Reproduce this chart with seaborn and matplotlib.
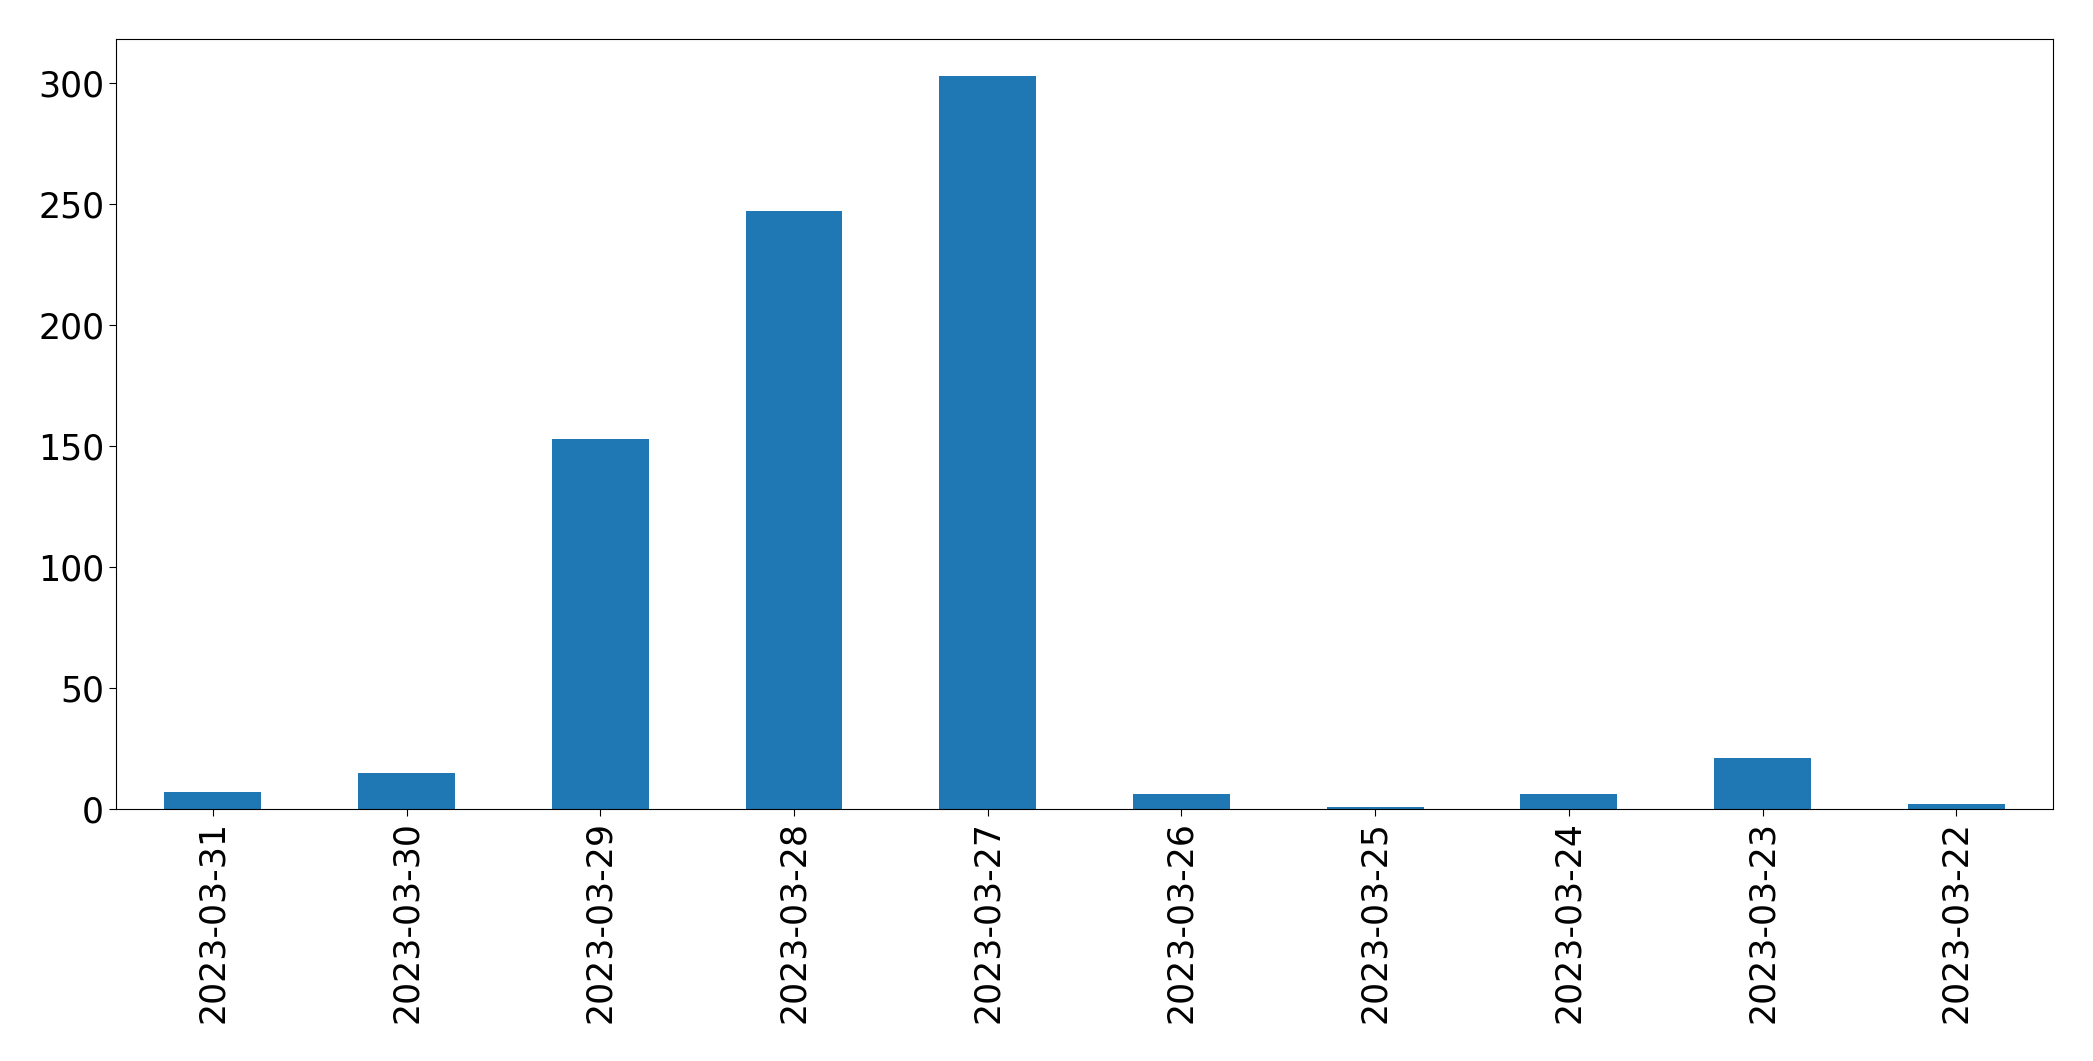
import matplotlib
matplotlib.use("Agg")
import matplotlib.pyplot as plt
import seaborn as sns
import pandas as pd

dates = ["2023-03-31", "2023-03-30", "2023-03-29", "2023-03-28", "2023-03-27",
         "2023-03-26", "2023-03-25", "2023-03-24", "2023-03-23", "2023-03-22"]
counts = [7, 15, 153, 247, 303, 6, 1, 6, 21, 2]

df = pd.DataFrame({"date": dates, "count": counts})

fig, ax = plt.subplots(figsize=(20.93, 10.61), dpi=100)
sns.barplot(data=df, x="date", y="count", order=dates, color="#1f77b4",
            saturation=1, width=0.5, ax=ax)
ax.set_xlim(-0.5, len(dates) - 0.5)
ax.set_ylim(0, max(counts) * 1.05)
ax.set_xlabel("")
ax.set_ylabel("")
for s in ax.spines.values():
    s.set_color("black")
ax.tick_params(axis="both", labelsize=25, length=5, color="black")
plt.setp(ax.get_xticklabels(), rotation=90)
fig.subplots_adjust(left=0.0554, right=0.981, top=0.963, bottom=0.2375)
fig.savefig("out.png", dpi=100)
